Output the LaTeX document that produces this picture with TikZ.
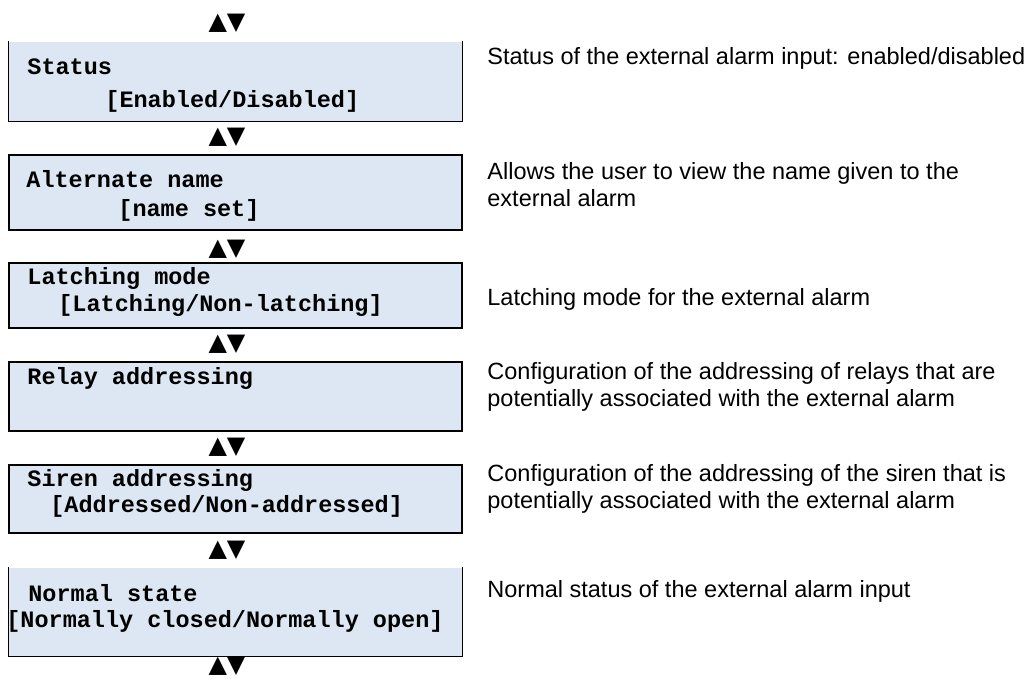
\documentclass[tikz,border=0pt]{standalone}
\usepackage{fontspec}
\setmainfont{Liberation Sans}
\newfontfamily\lcdfont{Liberation Mono}
\newfontfamily\symfont{DejaVu Sans}
\usetikzlibrary{positioning}
\definecolor{lcdblue}{HTML}{DDE7F3}

\begin{document}
\begin{tikzpicture}[
    x=0.5pt, y=-0.5pt,
    panel/.style={draw=black, line width=0.6pt, fill=lcdblue, rectangle, minimum width=226.5pt, inner sep=0pt},
    openpanel/.style={panel, draw=none},
    edge/.style={draw=black, line width=0.6pt},
    lcd/.style={anchor=base west, inner sep=0pt, font=\lcdfont\bfseries\fontsize{11.75}{14}\selectfont},
    desc/.style={anchor=base west, inner sep=0pt, align=left, font=\fontsize{11.75}{13.5}\selectfont},
    updown/.style={inner sep=0pt, font=\symfont\fontsize{12}{14}\selectfont}
]
    \useasboundingbox (0,0) rectangle (1024,679);

    % menu panels
    \node[openpanel, minimum height=39.5pt] (m1) at (235.5,81.5) {};
    \node[panel, minimum height=37.5pt] (m2) at (235.5,192.5) {};
    \node[panel, minimum height=32.5pt] (m3) at (235.5,295.5) {};
    \node[panel, minimum height=34.5pt] (m4) at (235.5,396.5) {};
    \node[panel, minimum height=34pt] (m5) at (235.5,499) {};
    \node[openpanel, minimum height=44pt] (m6) at (235.5,612) {};
    \draw[edge] (m1.north west) |- (m1.south east) -- (m1.north east);
    \draw[edge] (m6.north west) |- (m6.south east) -- (m6.north east);

    % panel texts
    \node[lcd] (t1a) at (27,75) {Status};
    \node[lcd] (t1b) at (105,108) {[Enabled/Disabled]};
    \node[lcd] (t2a) at (26,188) {Alternate name};
    \node[lcd] (t2b) at (118,217) {[name set]};
    \node[lcd] (t3a) at (27,285) {Latching mode};
    \node[lcd] (t3b) at (58,312) {[Latching/Non-latching]};
    \node[lcd] (t4a) at (27,385) {Relay addressing};
    \node[lcd] (t5a) at (27,487) {Siren addressing};
    \node[lcd] (t5b) at (50,512) {[Addressed/Non-addressed]};
    \node[lcd] (t6a) at (28,602) {Normal state};
    \node[lcd] (t6b) at (6,627) {[Normally closed/Normally open]};

    % scroll keys
    \node[updown] (k0) at (227,23) {▲▼};
    \node[updown] (k1) at (227,137) {▲▼};
    \node[updown] (k2) at (227,249) {▲▼};
    \node[updown] (k3) at (227,344) {▲▼};
    \node[updown] (k4) at (227,447) {▲▼};
    \node[updown] (k5) at (227,550) {▲▼};
    \node[updown] (k6) at (227,666) {▲▼};

    % descriptions (base = last line)
    \node[desc] (d1) at (487,65) {Status of the external alarm input: enabled/disabled};
    \node[desc] (d2) at (487,207) {Allows the user to view the name given to the\\external alarm};
    \node[desc] (d3) at (487,306) {Latching mode for the external alarm};
    \node[desc] (d4) at (487,407) {Configuration of the addressing of relays that are\\potentially associated with the external alarm};
    \node[desc] (d5) at (487,509) {Configuration of the addressing of the siren that is\\potentially associated with the external alarm};
    \node[desc] (d6) at (487,597) {Normal status of the external alarm input};
\end{tikzpicture}
\end{document}
